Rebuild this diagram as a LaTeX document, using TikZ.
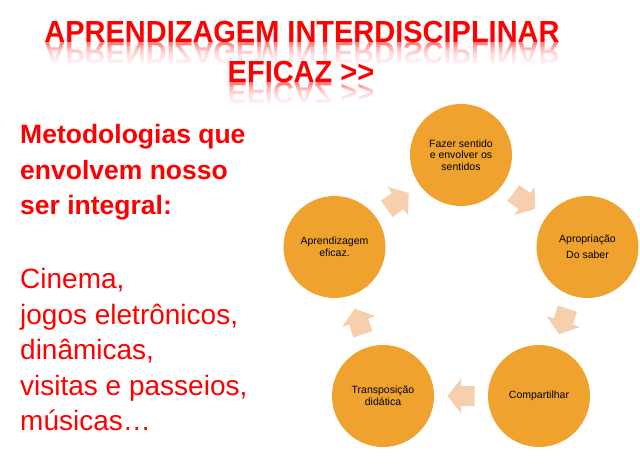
\documentclass[tikz,border=0pt]{standalone}
\usepackage{fontspec}
\setmainfont{Liberation Sans}
\usetikzlibrary{positioning,calc}
\definecolor{bubbleorange}{RGB}{239,163,46}
\definecolor{arrowpeach}{RGB}{246,207,175}
\definecolor{slidered}{RGB}{255,0,0}
\tikzset{
  bubble/.style={circle, fill=bubbleorange, minimum size=102pt, inner sep=0pt,
    align=center, text=black, font=\fontsize{10.5}{11.7}\selectfont},
  titletext/.style={text=slidered, inner sep=0pt, anchor=base,
    font=\bfseries\fontsize{30.5}{30.5}\selectfont},
  mirrortext/.style={titletext, text=slidered!50},
  leadtext/.style={text=slidered, inner sep=0pt, anchor=base west,
    font=\bfseries\fontsize{26.5}{30}\selectfont},
  listtext/.style={text=slidered, inner sep=0pt, anchor=base west,
    font=\fontsize{28}{30}\selectfont},
  cyclearrow/.pic={
    \fill[arrowpeach] (-13.5,-10) -- (0,-10) -- (0,-17.5) -- (13.5,0)
      -- (0,17.5) -- (0,10) -- (-13.5,10) -- cycle;
  },
}

\begin{document}
\begin{tikzpicture}[x=1pt,y=-1pt]
  \useasboundingbox (0,0) rectangle (640,473);

  % title, each line with its faded reflection
  \node[mirrortext] (mirror1) at (302,43) {\scalebox{0.95}[-1]{APRENDIZAGEM INTERDISCIPLINAR}};
  \foreach \k in {0,...,9}
    \fill[white, opacity=0.22] (30,45+2*\k) rectangle (580,68);
  \node[titletext] (title1) at (302,43) {\scalebox{0.95}[1]{APRENDIZAGEM INTERDISCIPLINAR}};
  \node[mirrortext] (mirror2) at (301,83) {\scalebox{0.95}[-1]{EFICAZ >{}>}};
  \foreach \k in {0,...,9}
    \fill[white, opacity=0.22] (200,85+2*\k) rectangle (400,108);
  \node[titletext] (title2) at (301,83) {\scalebox{0.95}[1]{EFICAZ >{}>}};

  % left column
  \foreach \txt/\yy [count=\i] in {Metodologias que/144, envolvem nosso/180, ser integral:/215}
    \node[leadtext] (lead\i) at (20,\yy) {\txt};
  \foreach \txt/\yy [count=\i] in {{Cinema,}/288, {jogos eletrônicos,}/324, {dinâmicas,}/359,
      {visitas e passeios,}/395, músicas…/430}
    \node[listtext] (item\i) at (20,\yy) {\txt};

  % cycle
  \node[bubble] (fazer) at (461,155) {Fazer sentido\\e envolver os\\sentidos};
  \node[bubble] (apro) at (587.5,247) {Apropriação\\[4pt]Do saber};
  \node[bubble] (comp) at (539,396) {Compartilhar};
  \node[bubble] (trans) at (383,396) {Transposição\\didática};
  \node[bubble] (aprend) at (334.5,247) {Aprendizagem\\eficaz.};

  \foreach \a/\b in {fazer/apro, apro/comp, comp/trans, trans/aprend, aprend/fazer}
    \path (\a) -- (\b) pic[pos=0.5, sloped, allow upside down] {cyclearrow};
\end{tikzpicture}
\end{document}
